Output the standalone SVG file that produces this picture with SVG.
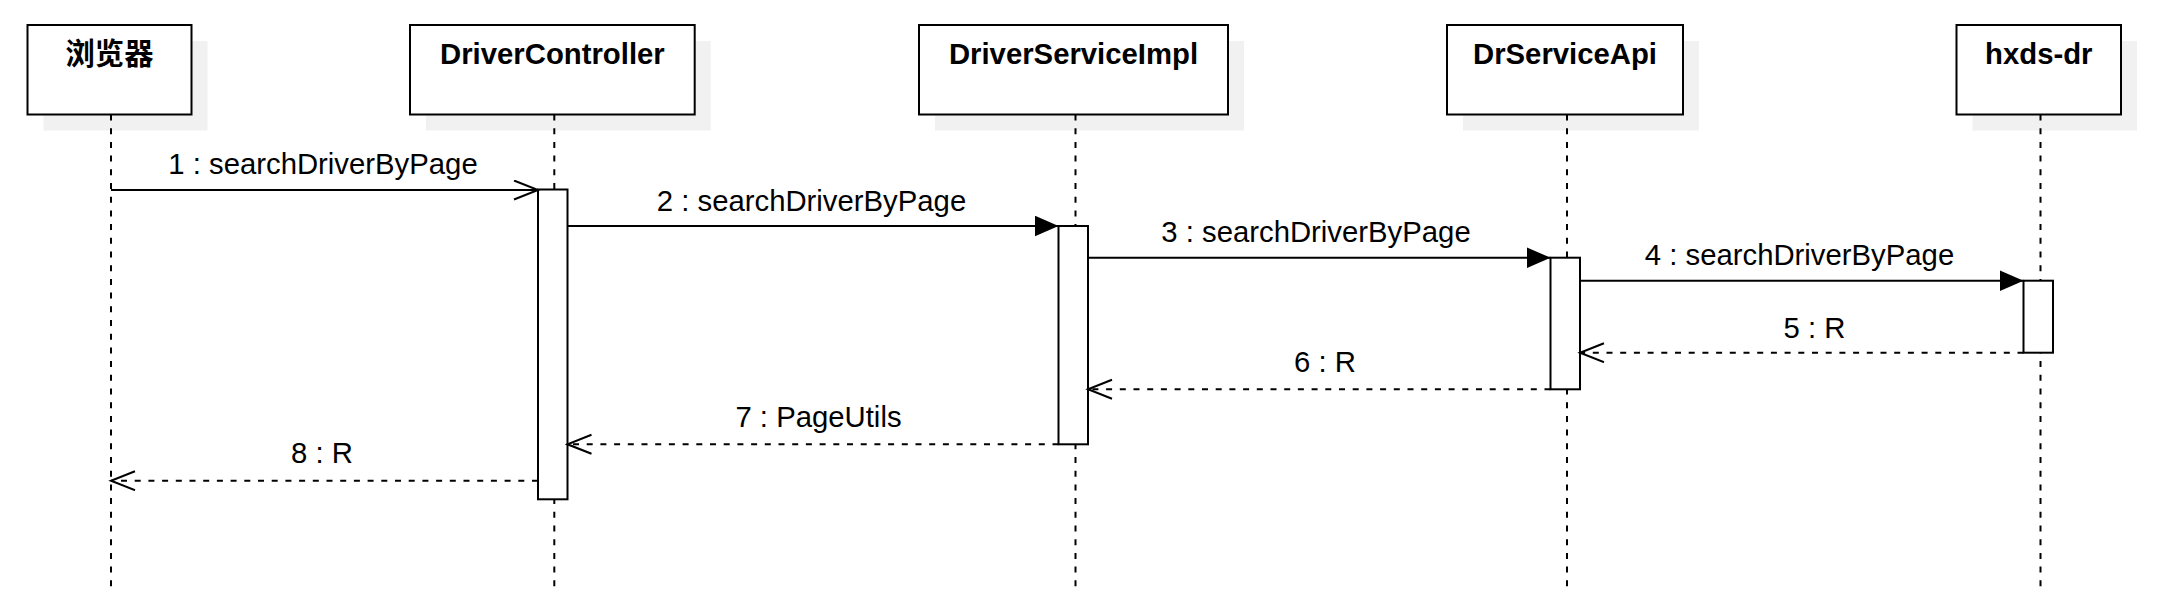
<svg xmlns="http://www.w3.org/2000/svg" width="2157" height="607" viewBox="0 0 2157 607">
<style>
.shadow{fill:#f1f1f1;stroke:none}
.box{fill:#fff;stroke:#000;stroke-width:2}
.title{font-family:"Liberation Sans","Noto Sans CJK SC",sans-serif;font-size:29.3px;font-weight:bold;fill:#000;text-anchor:middle}
.life{stroke:#000;stroke-width:2;stroke-dasharray:6 7.7;fill:none}
.act{fill:#fff;stroke:#000;stroke-width:2}
.msg{stroke:#000;stroke-width:2;fill:none}
.ret{stroke:#000;stroke-width:2;fill:none;stroke-dasharray:6 7.7}
.lbl{font-family:"Liberation Sans",sans-serif;font-size:29.3px;fill:#000;text-anchor:middle}
</style>
<defs>
<marker id="filled" markerUnits="userSpaceOnUse" markerWidth="26" markerHeight="24" refX="24" refY="10.5" orient="auto">
<path d="M0,0 L24,10.5 L0,21 Z" fill="#000"/>
</marker>
<marker id="open" markerUnits="userSpaceOnUse" markerWidth="28" markerHeight="24" refX="25" refY="10.5" orient="auto">
<path d="M1,1 L25,10.5 L1,20" fill="none" stroke="#000" stroke-width="2"/>
</marker>
</defs>
<rect width="2157" height="607" fill="#fff"/>

<g id="node-browser">
<rect class="shadow" x="43.5" y="41" width="164" height="89.5"/>
<rect class="box" x="27.5" y="25" width="164" height="89.5"/>
<text class="title" x="109.5" y="64">浏览器</text>
<line class="life" x1="111" y1="114.5" x2="111" y2="587"/>
</g>

<g id="node-drivercontroller">
<rect class="shadow" x="426" y="41" width="284.7" height="89.5"/>
<rect class="box" x="410" y="25" width="284.7" height="89.5"/>
<text class="title" x="552.4" y="64">DriverController</text>
<line class="life" x1="554.3" y1="114.5" x2="554.3" y2="587"/>
<rect class="act" x="538" y="189.5" width="29.5" height="309.8"/>
</g>

<g id="node-driverserviceimpl">
<rect class="shadow" x="935" y="41" width="309" height="89.5"/>
<rect class="box" x="919" y="25" width="309" height="89.5"/>
<text class="title" x="1073.5" y="64">DriverServiceImpl</text>
<line class="life" x1="1075.5" y1="114.5" x2="1075.5" y2="587"/>
<rect class="act" x="1058.5" y="226" width="29.5" height="218.3"/>
</g>

<g id="node-drserviceapi">
<rect class="shadow" x="1463" y="41" width="236" height="89.5"/>
<rect class="box" x="1447" y="25" width="236" height="89.5"/>
<text class="title" x="1565" y="64">DrServiceApi</text>
<line class="life" x1="1567" y1="114.5" x2="1567" y2="587"/>
<rect class="act" x="1550.5" y="257.7" width="29.5" height="131.6"/>
</g>

<g id="node-hxds-dr">
<rect class="shadow" x="1972.5" y="41" width="164.5" height="89.5"/>
<rect class="box" x="1956.5" y="25" width="164.5" height="89.5"/>
<text class="title" x="2038.8" y="64">hxds-dr</text>
<line class="life" x1="2040.5" y1="114.5" x2="2040.5" y2="587"/>
<rect class="act" x="2023.5" y="280.7" width="29.5" height="72"/>
</g>

<g id="connectors">
<line class="msg" x1="111" y1="190" x2="538" y2="190" marker-end="url(#open)"/>
<text class="lbl" x="323" y="174.3">1 : searchDriverByPage</text>

<line class="msg" x1="567.5" y1="226" x2="1058.5" y2="226" marker-end="url(#filled)"/>
<text class="lbl" x="811.5" y="211.3">2 : searchDriverByPage</text>

<line class="msg" x1="1088" y1="257.7" x2="1550.5" y2="257.7" marker-end="url(#filled)"/>
<text class="lbl" x="1316" y="241.7">3 : searchDriverByPage</text>

<line class="msg" x1="1580" y1="280.7" x2="2023.5" y2="280.7" marker-end="url(#filled)"/>
<text class="lbl" x="1799.5" y="265">4 : searchDriverByPage</text>

<line class="ret" x1="2023.5" y1="352.7" x2="1580" y2="352.7" marker-end="url(#open)"/>
<text class="lbl" x="1814.5" y="338.3">5 : R</text>

<line class="ret" x1="1550.5" y1="389.3" x2="1088" y2="389.3" marker-end="url(#open)"/>
<text class="lbl" x="1325" y="371.7">6 : R</text>

<line class="ret" x1="1058.5" y1="444.3" x2="567.5" y2="444.3" marker-end="url(#open)"/>
<text class="lbl" x="818.5" y="427.3">7 : PageUtils</text>

<line class="ret" x1="538" y1="480.7" x2="111" y2="480.7" marker-end="url(#open)"/>
<text class="lbl" x="322" y="463.3">8 : R</text>
</g>
</svg>
